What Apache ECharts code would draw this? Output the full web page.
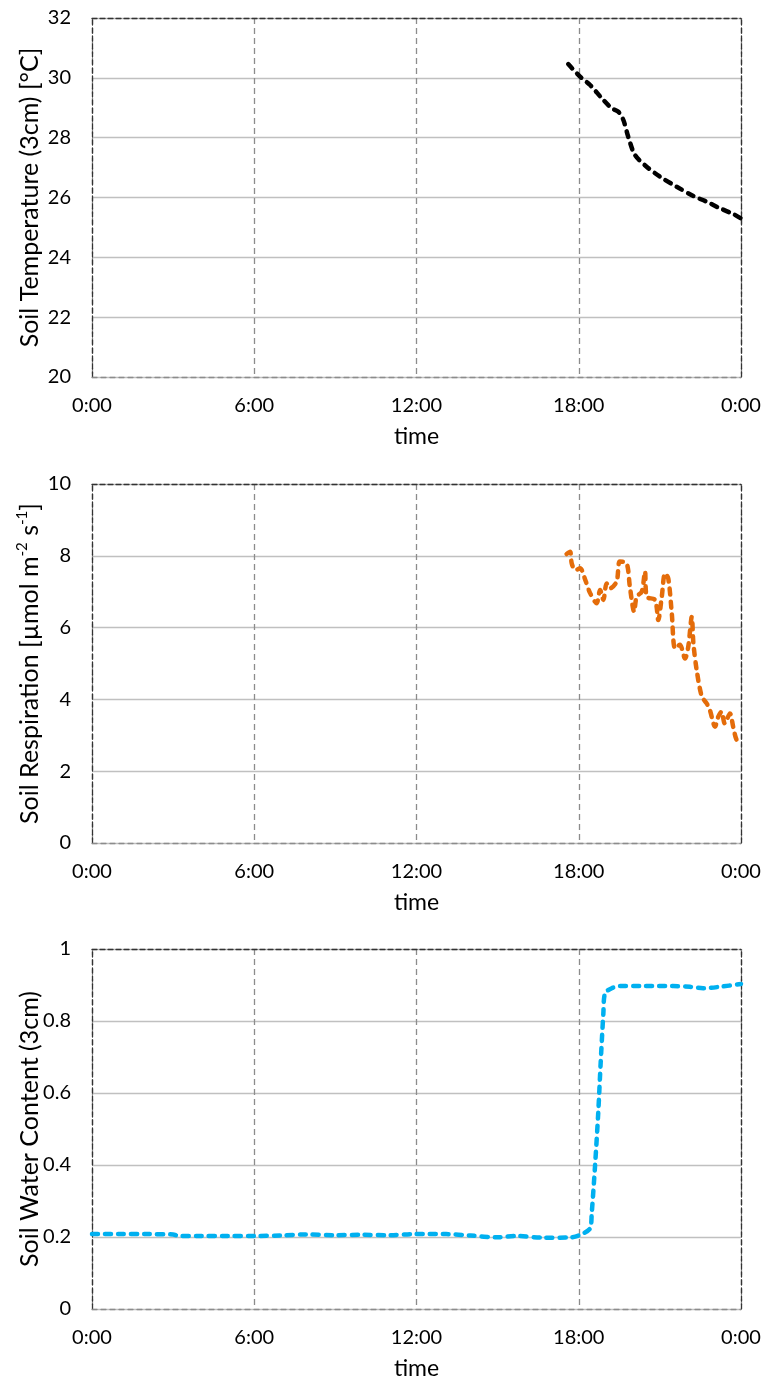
<!DOCTYPE html>
<html>
<head>
<meta charset="utf-8">
<script src="https://cdn.jsdelivr.net/npm/echarts@6/dist/echarts.min.js"></script>
<style>html,body{margin:0;padding:0;background:#fff}#c{width:768px;height:1384px}</style>
</head>
<body>
<div id="c"></div>
<script>
// ---- data (time in hours since 0:00) ----
const xTickLabels = ['0:00', '6:00', '12:00', '18:00', '0:00'];

const tempTime = [17.61, 18.05, 18.42, 18.85, 19.22, 19.46, 19.65, 19.83, 20.08, 20.51, 21.0, 21.62, 22.24, 22.73, 23.22, 23.71, 24.0];
const tempVal  = [30.46, 30.04, 29.76, 29.32, 28.98, 28.87, 28.59, 28.03, 27.42, 27.03, 26.70, 26.36, 26.05, 25.86, 25.64, 25.45, 25.30];

const respTime = [17.55, 17.68, 17.74, 17.87, 18.05, 18.24, 18.42, 18.66, 18.79, 18.91, 19.03, 19.15, 19.40, 19.52, 19.77, 19.89, 20.05, 20.14, 20.33, 20.45, 20.51, 20.82, 20.94, 21.07, 21.19, 21.31, 21.44, 21.56, 21.74, 21.93, 22.05, 22.18, 22.24, 22.36, 22.55, 22.73, 22.85, 23.04, 23.16, 23.28, 23.40, 23.59, 23.71, 23.84, 23.96];
const respVal  = [8.05, 8.11, 7.79, 7.60, 7.65, 7.33, 6.96, 6.68, 7.05, 6.77, 7.23, 7.09, 7.28, 7.84, 7.79, 7.14, 6.44, 6.86, 7.00, 7.56, 6.86, 6.77, 6.21, 6.86, 7.51, 7.37, 6.40, 5.42, 5.52, 5.14, 5.47, 6.30, 5.56, 4.82, 4.08, 3.89, 3.70, 3.24, 3.52, 3.66, 3.33, 3.61, 3.24, 2.87, 2.85];

const swcTime = [0, 1, 2, 3, 3.2, 4, 5, 6, 7, 7.9, 9, 10, 11, 11.9, 13.1, 14, 15.0, 15.7, 16.7, 17.7, 18.05, 18.42, 18.48, 18.60, 18.72, 18.81, 18.91, 18.97, 19.22, 19.52, 20.26, 21.49, 22.11, 22.60, 23.22, 24.0];
const swcVal  = [0.208, 0.208, 0.208, 0.207, 0.203, 0.203, 0.203, 0.203, 0.204, 0.207, 0.205, 0.206, 0.205, 0.208, 0.208, 0.204, 0.199, 0.203, 0.198, 0.199, 0.206, 0.224, 0.266, 0.395, 0.544, 0.683, 0.821, 0.877, 0.891, 0.897, 0.897, 0.897, 0.895, 0.891, 0.895, 0.903];

const yTitles = ['Soil Temperature (3cm) [°C]', 'Soil Respiration [µmol m{sup|-2} s{sup|-1}]', 'Soil Water Content (3cm)'];
const yRanges = [[20, 32, 2], [0, 10, 2], [0, 1, 0.2]];
const lineColors = ['#000000', '#E46C0A', '#00B0F0'];

// ---- chart ----
const FONT = 'Lato';
const grids = [
  { left: 92, width: 649, top: 18, height: 359, outerBoundsMode: 'none', containLabel: false },
  { left: 92, width: 649, top: 484, height: 359, outerBoundsMode: 'none', containLabel: false },
  { left: 92, width: 649, top: 949, height: 360, outerBoundsMode: 'none', containLabel: false }
];
const pairs = (xs, ys) => xs.map((x, i) => [x, ys[i]]);
const seriesData = [pairs(tempTime, tempVal), pairs(respTime, respVal), pairs(swcTime, swcVal)];

const xAxis = [], yAxis = [], series = [];
grids.forEach((g, i) => {
  xAxis.push({
    gridIndex: i, type: 'value', min: 0, max: 24, interval: 6,
    name: 'time', nameLocation: 'middle', nameGap: 48,
    nameTextStyle: { fontFamily: FONT, fontSize: 23, color: '#000' },
    axisLine: { show: true, onZero: false, lineStyle: { color: '#8c8c8c', type: [5, 4], width: 1.3 } },
    axisTick: { show: false },
    axisLabel: { fontFamily: FONT, fontSize: 20, color: '#000', margin: 19,
      formatter: v => xTickLabels[Math.round(v / 6)] },
    splitLine: { show: true, lineStyle: { color: '#8c8c8c', type: [6, 4], width: 1.3 } }
  });
  xAxis.push({
    gridIndex: i, type: 'value', min: 0, max: 24, position: 'top',
    axisLine: { show: true, onZero: false, lineStyle: { color: '#333', type: [5, 3], width: 1.3 } },
    axisTick: { show: false }, axisLabel: { show: false }, splitLine: { show: false }
  });
  const r = yRanges[i];
  yAxis.push({
    gridIndex: i, type: 'value', min: r[0], max: r[1], interval: r[2],
    name: yTitles[i], nameLocation: 'middle', nameGap: 47, nameRotate: 90, nameMoveOverlap: false,
    nameTextStyle: { fontFamily: FONT, fontSize: 25, color: '#000', lineHeight: 30,
      rich: { sup: { fontFamily: FONT, fontSize: 15, verticalAlign: 'top', lineHeight: 30, color: '#000' } } },
    axisLine: { show: true, onZero: false, lineStyle: { color: '#333', type: [5, 3], width: 1.3 } },
    axisTick: { show: false },
    axisLabel: { fontFamily: FONT, fontSize: 20, color: '#000', margin: 21,
      formatter: v => String(Math.round(v * 10) / 10) },
    splitLine: { show: true, lineStyle: { color: '#c0c0c0', type: 'solid', width: 1.3 } }
  });
  yAxis.push({
    gridIndex: i, type: 'value', min: r[0], max: r[1], position: 'right',
    axisLine: { show: true, onZero: false, lineStyle: { color: '#333', type: [5, 3], width: 1.3 } },
    axisTick: { show: false }, axisLabel: { show: false }, splitLine: { show: false }
  });
  series.push({
    type: 'line', xAxisIndex: i * 2, yAxisIndex: i * 2, data: seriesData[i],
    showSymbol: false, smooth: 0.3, clip: false,
    lineStyle: { color: lineColors[i], width: 4.5, type: [6, 7], cap: 'round', join: 'round' }
  });
});

const chart = echarts.init(document.getElementById('c'), null, { renderer: 'canvas' });
chart.setOption({
  animation: false,
  backgroundColor: '#fff',
  grid: grids,
  xAxis: xAxis,
  yAxis: yAxis,
  series: series
});
</script>
</body>
</html>
